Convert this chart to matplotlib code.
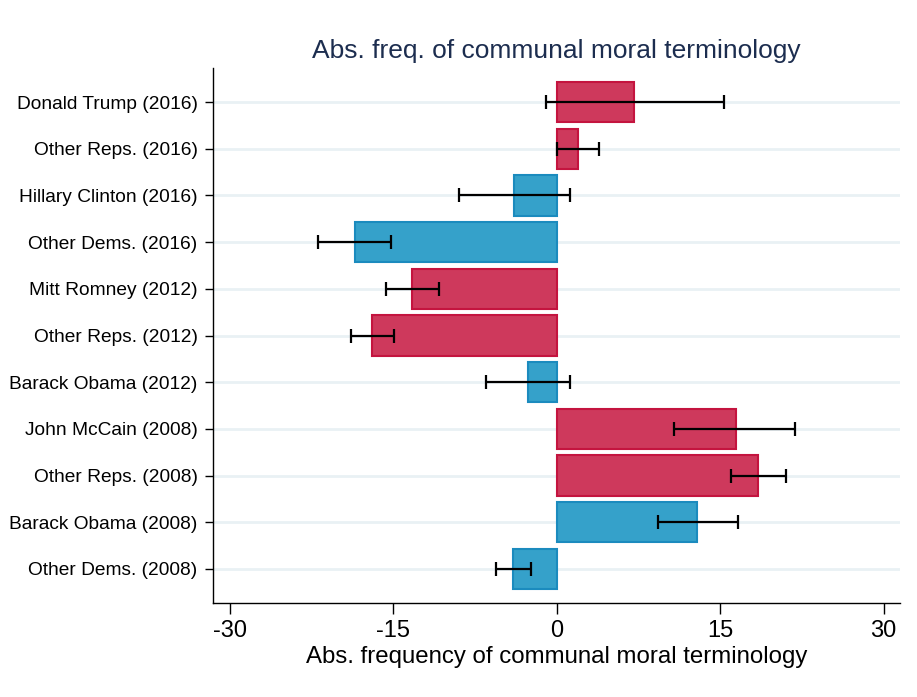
import numpy as np
import matplotlib.pyplot as plt

plt.rcParams['font.family'] = ['Liberation Sans', 'DejaVu Sans']

# Data (top row first)
labels = ['Donald Trump (2016)', 'Other Reps. (2016)', 'Hillary Clinton (2016)',
          'Other Dems. (2016)', 'Mitt Romney (2012)', 'Other Reps. (2012)',
          'Barack Obama (2012)', 'John McCain (2008)', 'Other Reps. (2008)',
          'Barack Obama (2008)', 'Other Dems. (2008)']
values = [7.1, 1.9, -3.9, -18.5, -13.3, -17.0, -2.6, 16.4, 18.5, 12.9, -4.0]
ci_low = [-1.0, 0.0, -9.0, -21.9, -15.7, -18.9, -6.5, 10.8, 16.0, 9.3, -5.6]
ci_high = [15.3, 3.9, 1.2, -15.2, -10.8, -14.9, 1.2, 21.9, 21.0, 16.6, -2.4]
party = ['R', 'R', 'D', 'D', 'R', 'R', 'D', 'R', 'R', 'D', 'D']
xticks = [-30, -15, 0, 15, 30]

fill = {'R': '#CE395C', 'D': '#35A1CA'}
edge = {'R': '#C4143F', 'D': '#1B8BBE'}

fig = plt.figure(figsize=(9.17, 6.97), dpi=100)
ax = fig.add_axes([0.2323, 0.1349, 0.7492, 0.7675])

y = np.arange(len(labels))
for yi in y:
    ax.axhline(yi, color='#E9F1F4', linewidth=2, zorder=0)

ax.barh(y, values, height=0.86,
        color=[fill[p] for p in party],
        edgecolor=[edge[p] for p in party], linewidth=1.5, zorder=2)

ax.hlines(y, ci_low, ci_high, color='black', linewidth=1.6, zorder=3)
ax.plot(ci_low, y, linestyle='none', marker='|', markersize=10,
        markeredgewidth=1.6, color='black', zorder=3)
ax.plot(ci_high, y, linestyle='none', marker='|', markersize=10,
        markeredgewidth=1.6, color='black', zorder=3)

ax.set_yticks(y)
ax.set_yticklabels(labels, fontsize=13.8)
ax.set_ylim(len(labels) - 1 + 0.73, -0.73)
ax.set_xlim(-31.55, 31.5)
ax.set_xticks(xticks)
ax.set_xticklabels([str(t) for t in xticks], fontsize=17)
ax.set_xlabel('Abs. frequency of communal moral terminology', fontsize=17.3,
              labelpad=3)
ax.set_title('Abs. freq. of communal moral terminology', fontsize=19,
             color='#1C2D4F', pad=7)

ax.tick_params(axis='y', length=6, width=1, pad=5)
ax.tick_params(axis='x', length=8, width=1, pad=4)
for s in ['top', 'right']:
    ax.spines[s].set_visible(False)
ax.spines['left'].set_linewidth(1)
ax.spines['bottom'].set_linewidth(1)

fig.savefig('out.png', dpi=100)
